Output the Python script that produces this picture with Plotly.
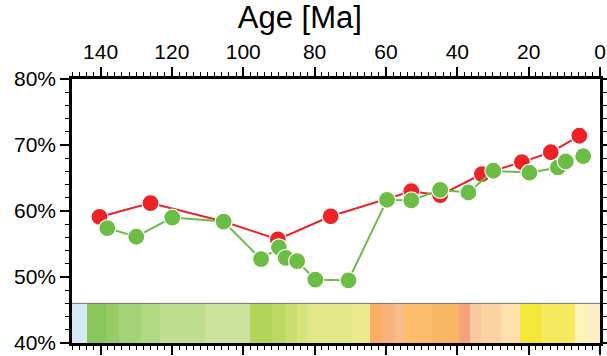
import plotly.graph_objects as go

# ---- data ----
red_age = [140.3, 126.0, 105.5, 90.3, 75.5, 52.9, 44.8, 33.1, 21.9, 13.8, 5.8]
red_val = [59.1, 61.2, 58.4, 55.7, 59.2, 63.0, 62.4, 65.6, 67.4, 68.9, 71.4]

green_age = [138.1, 130.0, 119.9, 105.5, 95.0, 90.0, 88.1, 84.9, 79.8, 70.5,
             59.7, 52.9, 44.8, 36.9, 29.9, 19.8, 11.8, 9.6, 4.7]
green_val = [57.4, 56.1, 59.0, 58.4, 52.7, 54.5, 52.9, 52.4, 49.6, 49.5,
             61.7, 61.6, 63.2, 62.8, 66.1, 65.8, 66.6, 67.5, 68.3]

stage_bounds = [148, 143.8, 138.4, 134.9, 128.6, 123.4, 110.6, 98.2, 91.9, 88.2,
                84.9, 82.1, 69.5, 64.6, 60.7, 57.6, 54.9, 47.1, 39.5, 36.5,
                33.4, 27.8, 22.4, 16.3, 7.0, 3.3, 0]
stage_colors = ["#D5E9F3", "#8AC65B", "#97CB67", "#A4D276", "#B1D883", "#BFDE90",
                "#CDE39D", "#B1D459", "#BDD964", "#C8DE6F", "#D5E37B", "#E1E686",
                "#EAEA8F", "#F9AE63", "#F7B27C", "#F9BC8C", "#FBBC6B", "#F9B766",
                "#F6A27A", "#FBC9A0", "#FCD3A0", "#FDE0AA", "#F3E83A", "#F5EA5E",
                "#FAF4BA", "#FCEFC5"]
bar_base = 40
bar_top = 46

x_range = [148, 0]
y_range = [40, 80]
x_ticks = [140, 120, 100, 80, 60, 40, 20, 0]
y_ticks = [40, 50, 60, 70, 80]
y_ticklabels = ["40%", "50%", "60%", "70%", "80%"]

# ---- figure ----
mids = [(a + b) / 2 for a, b in zip(stage_bounds[:-1], stage_bounds[1:])]
widths = [a - b for a, b in zip(stage_bounds[:-1], stage_bounds[1:])]

fig = go.Figure()
fig.add_trace(go.Bar(x=mids, y=[bar_top - bar_base] * len(mids), base=bar_base,
                     width=widths, marker=dict(color=stage_colors, line=dict(width=0)),
                     hoverinfo="skip", showlegend=False))
fig.add_trace(go.Scatter(x=[stage_bounds[0], stage_bounds[-1]], y=[bar_top, bar_top],
                         mode="lines", line=dict(color="#777777", width=1),
                         hoverinfo="skip", showlegend=False))
fig.add_trace(go.Scatter(x=red_age, y=red_val, mode="lines+markers",
                         line=dict(color="#EC2227", width=2),
                         marker=dict(size=17, color="#EC2227", line=dict(color="white", width=1.2)),
                         showlegend=False))
fig.add_trace(go.Scatter(x=green_age, y=green_val, mode="lines+markers",
                         line=dict(color="#6BBD45", width=2),
                         marker=dict(size=17, color="#6BBD45", line=dict(color="white", width=1.2)),
                         showlegend=False))

font = "Liberation Sans, Arial, sans-serif"
fig.update_layout(
    template="none",
    width=607, height=356,
    margin=dict(l=72, r=7, t=79, b=13, autoexpand=False),
    paper_bgcolor="white", plot_bgcolor="white",
    barmode="overlay", bargap=0,
    font=dict(family=font, color="black", size=21),
    title=dict(text="Age [Ma]", font=dict(size=31, family=font, color="black"),
               xref="container", x=0.494, xanchor="center",
               yref="container", y=0.953, yanchor="middle"),
    xaxis=dict(range=x_range, side="top", tickmode="array", tickvals=x_ticks,
               ticks="outside", ticklen=9, tickwidth=1.5, tickcolor="black",
               showline=True, linewidth=2.5, linecolor="black", mirror="ticks",
               showgrid=False, zeroline=False, tickfont=dict(size=21),
               automargin=False, ticklabeloverflow="allow",
               minor=dict(dtick=2, ticks="outside", ticklen=4, tickwidth=1, tickcolor="black", showgrid=False)),
    yaxis=dict(range=y_range, tickmode="array", tickvals=y_ticks, ticktext=y_ticklabels,
               ticks="outside", ticklen=9, tickwidth=1.5, tickcolor="black",
               showline=True, linewidth=2.5, linecolor="black", mirror="ticks",
               showgrid=False, zeroline=False, tickfont=dict(size=21),
               automargin=False, ticklabeloverflow="allow",
               minor=dict(dtick=2, ticks="outside", ticklen=4, tickwidth=1, tickcolor="black", showgrid=False)),
)

fig.write_html("out.html")
